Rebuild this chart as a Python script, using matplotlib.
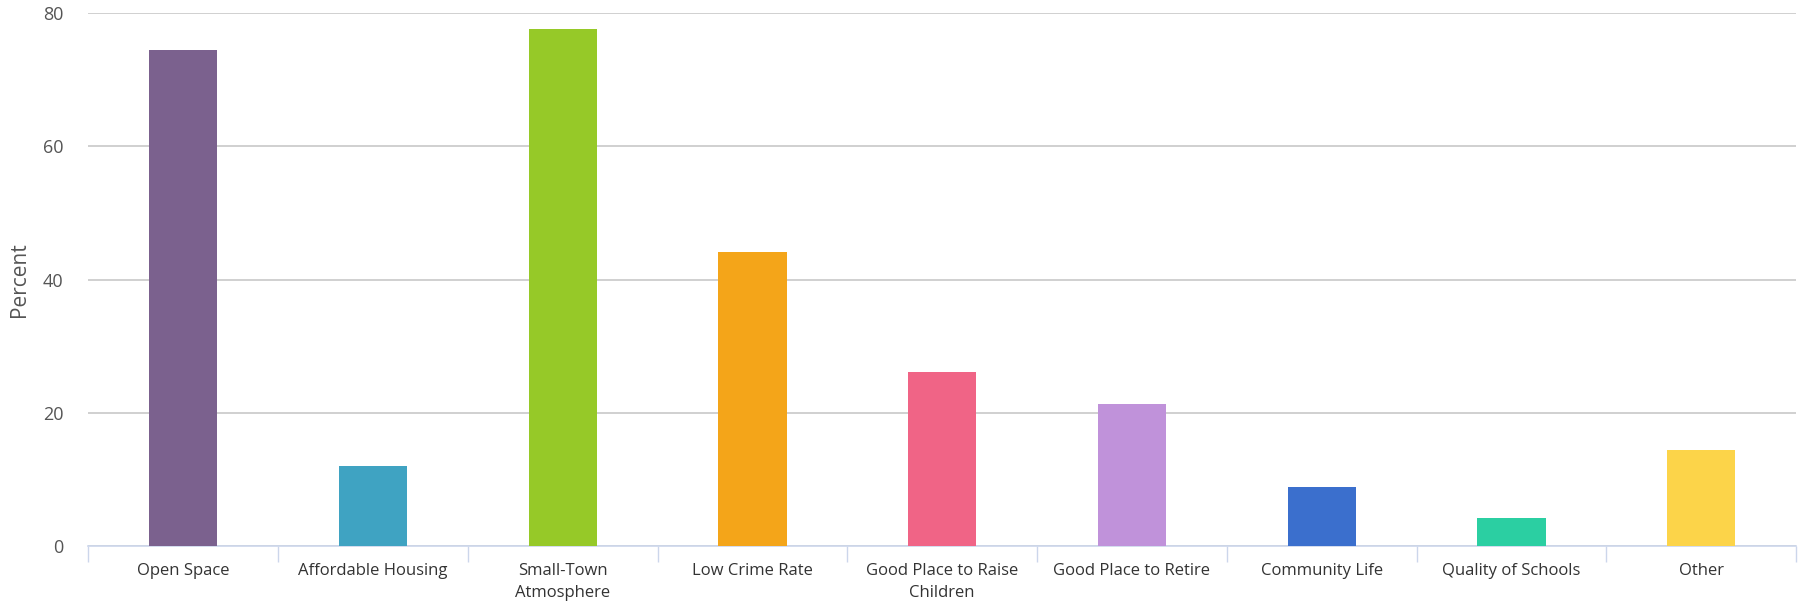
import numpy as np
import matplotlib.pyplot as plt

categories = ["Open Space", "Affordable Housing", "Small-Town\nAtmosphere", "Low Crime Rate",
              "Good Place to Raise\nChildren", "Good Place to Retire", "Community Life",
              "Quality of Schools", "Other"]
percent = [74.5, 12.0, 77.6, 44.1, 26.1, 21.3, 8.9, 4.2, 14.4]
colors = ["#7b618e", "#3fa3c2", "#96c928", "#f4a519", "#f06486",
          "#c092da", "#3b6fcd", "#2bcfa2", "#fcd449"]

plt.rcParams['font.family'] = ['Open Sans', 'DejaVu Sans']

fig = plt.figure(figsize=(18.05, 6.06), dpi=100)
ax = fig.add_axes([0.049, 0.099, 0.946, 0.8795])

x = np.arange(len(categories))
ax.bar(x, percent, width=0.36, color=colors, zorder=3)

ax.set_xlim(-0.5, len(categories) - 0.5)
ax.set_ylim(0, 80)
ax.set_yticks([0, 20, 40, 60, 80])
ax.yaxis.grid(True, color="#c8c8c8", linewidth=1.2, zorder=0)

# category labels centred on bars, small ticks at category boundaries
ax.set_xticks(x)
ax.set_xticklabels(categories, fontsize=12, color="#333333", linespacing=1.5)
ax.set_xticks(np.arange(len(categories) + 1) - 0.5, minor=True)
ax.tick_params(axis="x", which="major", length=0, pad=12)
ax.tick_params(axis="x", which="minor", length=11.5, color="#ccd6eb", width=1)
ax.tick_params(axis="y", length=0, pad=18, labelsize=13, labelcolor="#555555")

for s in ["top", "right", "left"]:
    ax.spines[s].set_visible(False)
ax.spines["bottom"].set_color("#ccd6eb")
ax.spines["bottom"].set_linewidth(1.2)

ax.set_ylabel("Percent", fontsize=15, color="#555555", labelpad=9)

fig.savefig("out.png", dpi=100)
